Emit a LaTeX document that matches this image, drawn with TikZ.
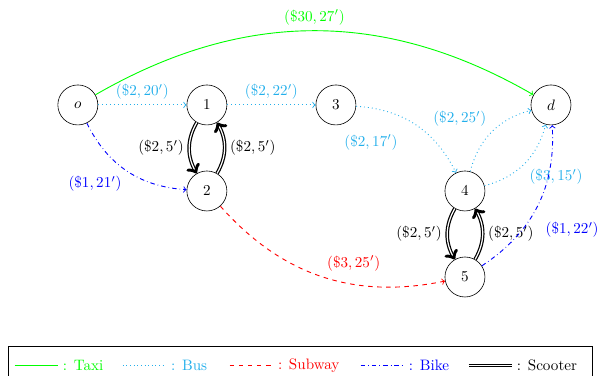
\documentclass[tikz,border=0pt]{standalone}
\usetikzlibrary{positioning}
\definecolor{buscol}{RGB}{35,175,235}
\tikzset{
  place/.style={circle, draw, minimum size=0.93cm, inner sep=0pt},
  taxi/.style={->, green, semithick},
  bus/.style={->, buscol, dotted, semithick},
  subway/.style={->, red, dashed, semithick},
  bike/.style={->, blue, dash dot, semithick},
  scooter/.style={->, double, thick, double distance=0.8pt}
}
\begin{document}
\begin{tikzpicture}
                \useasboundingbox (-1.81,-6.28) rectangle (12.14,2.44);

                \node [place] (o) at (0,0) {$o$};
                \node [place] (n1) at (3,0) {$1$};
                \node [place] (n3) at (6,0) {$3$};
                \node [place] (d) at (11,0) {$d$};
                \node [place] (n2) at (3,-2) {$2$};
                \node [place] (n4) at (9,-2) {$4$};
                \node [place] (n5) at (9,-4) {$5$};

                \draw[taxi] (o) to [bend left=30] node [above, green] {$(\$30,27')$} (d);
                \draw[bus] (o) -- (n1) node [midway, above] {$(\$2,20')$};
                \draw[bus] (n1) -- (n3) node [midway, above] {$(\$2,22')$};
                \draw[bike] (o) to [bend right] node [below left] {$(\$1,21')$} (n2);
                \draw[scooter] (n1) to [bend right] node [left] {$(\$2,5')$} (n2);
                \draw[scooter] (n2) to [bend right] node [right] {$(\$2,5')$} (n1);
                \draw[bus] (n3) to [bend left] node [below left, xshift=-0.3cm, yshift=-0.1cm] {$(\$2,17')$} (n4);
                \draw[bus] (n4) to [bend left] node [above left] {$(\$2,25')$} (d);
                \draw[bus] (n4) to [bend right] node [below right] {$(\$3,15')$} (d);
                \draw[subway] (n2) to [bend right] node [above right] {$(\$3,25')$} (n5);
                \draw[scooter] (n4) to [bend right] node [left] {$(\$2,5')$} (n5);
                \draw[scooter] (n5) to [bend right] node [right] {$(\$2,5')$} (n4);
                \draw[bike] (n5) to [bend right] node [below right, pos=0.42, xshift=0.2cm] {$(\$1,22')$} (d);

                % legend
                \draw (-1.62,-6.6) rectangle (11.95,-5.60);
                \coordinate (taxiA) at (-1.47,-6.06);
                \coordinate [right=1cm of taxiA] (taxiB);
                \draw[green, semithick] (taxiA) -- (taxiB);
                \node [right=0pt of taxiB, green] (taxiT) {: Taxi};
                \coordinate [right=0.33cm of taxiT] (busA);
                \coordinate [right=1cm of busA] (busB);
                \draw[buscol, dotted] (busA) -- (busB);
                \node [right=0pt of busB, buscol] (busT) {: Bus};
                \coordinate [right=0.4cm of busT] (subA);
                \coordinate [right=1cm of subA] (subB);
                \draw[red, dashed, semithick] (subA) -- (subB);
                \node [right=0pt of subB, red] (subT) {: Subway};
                \coordinate [right=0.37cm of subT] (bikeA);
                \coordinate [right=1cm of bikeA] (bikeB);
                \draw[blue, dash dot, semithick] (bikeA) -- (bikeB);
                \node [right=0pt of bikeB, blue] (bikeT) {: Bike};
                \coordinate [right=0.33cm of bikeT] (scoA);
                \coordinate [right=1cm of scoA] (scoB);
                \draw[double, thick] (scoA) -- (scoB);
                \node [right=0pt of scoB] (scoT) {: Scooter};
            \end{tikzpicture}
\end{document}
